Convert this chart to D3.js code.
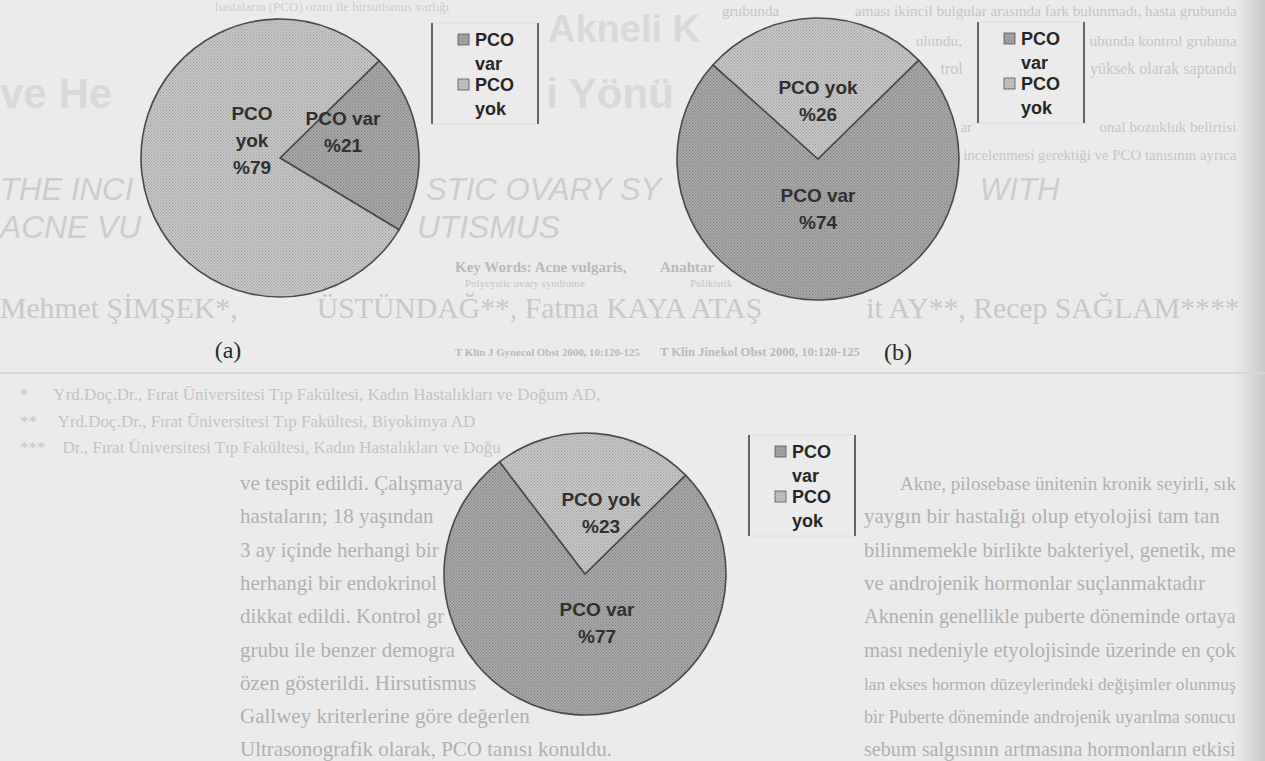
<!DOCTYPE html>
<html>
<head>
<meta charset="utf-8">
<script src="https://cdn.jsdelivr.net/npm/d3@7"></script>
<style>
  body { margin: 0; background: #ebebeb; overflow: hidden; }
  svg { display: block; }
</style>
</head>
<body>
<svg></svg>
<script>
// chart data
const categories = ["PCO var", "PCO yok"];
const panelNames = ["(a)", "(b)", ""];
const valuesA = [21, 79];
const valuesB = [74, 26];
const valuesC = [77, 23];
const legendLines = [["PCO", "var"], ["PCO", "yok"]];

const W = 1265, H = 761;
const svg = d3.select('svg').attr('width', W).attr('height', H);

const deg = Math.PI / 180;
const startDeg = 45.5;

// layout of the three pies (centres, legends, captions, label spots)
const panels = [
  { values: valuesA, cx: 280, cy: 158, r: 139, legend: [432, 23], caption: [228, 358],
    labels: [[63, -27], [-28, -18]], wrapYok: true },
  { values: valuesB, cx: 818, cy: 159, r: 141, legend: [978, 22], caption: [898, 360],
    labels: [[0, 49], [0, -59]], wrapYok: false },
  { values: valuesC, cx: 585, cy: 574, r: 141, legend: [749, 435], caption: null,
    labels: [[12, 48], [16, -62]], wrapYok: false }
];

// halftone patterns
const defs = svg.append('defs');
const patterns = [
  { id: 'pVar', base: '#adadad', dot: '#7f7f7f' },
  { id: 'pYok', base: '#cbcbcb', dot: '#9d9d9d' }
];
patterns.forEach(p => {
  const pat = defs.append('pattern').attr('id', p.id)
    .attr('width', 3).attr('height', 3).attr('patternUnits', 'userSpaceOnUse');
  pat.append('rect').attr('width', 3).attr('height', 3).attr('fill', p.base);
  pat.append('rect').attr('width', 1.2).attr('height', 1.2).attr('fill', p.dot);
  pat.append('rect').attr('x', 1.5).attr('y', 1.5).attr('width', 1.2).attr('height', 1.2).attr('fill', p.dot);
});
const color = d3.scaleOrdinal().domain(categories).range(['url(#pVar)', 'url(#pYok)']);

// page background
const edge = defs.append('linearGradient').attr('id', 'edge');
edge.append('stop').attr('offset', '0%').attr('stop-color', '#ebebeb');
edge.append('stop').attr('offset', '100%').attr('stop-color', '#c9c9c9');
svg.append('rect').attr('width', W).attr('height', H).attr('fill', '#ebebeb');
svg.append('rect').attr('x', 1235).attr('width', 30).attr('height', H).attr('fill', 'url(#edge)');

// faint text of the scanned page behind the charts
const pageText = [
  { t: 'Akneli K', x: 548, y: 42, s: 38, w: 'bold', f: 'sans', c: '#d9d9d9', len: 200 },
  { t: 've Hemogram Parametreleri Yönünden', x: 0, y: 108, s: 42, w: 'bold', f: 'sans', c: '#d9d9d9', len: 1000 },
  { t: 'hastaların (PCO) oranı ile hirsutismus varlığı', x: 215, y: 11, s: 13, f: 'serif', c: '#cdcdcd', len: 330 },
  { t: 'grubunda bir yaş ortalaması ikincil bulgular arasında fark bulunmadı, hasta grubunda', x: 722, y: 16, s: 15, f: 'serif', c: '#c6c6c6', len: 515, fit: true },
  { t: 'göre anlamlı derecede yüksek bulundu, PCO sıklığı hasta grubunda kontrol grubuna', x: 722, y: 46, s: 15, f: 'serif', c: '#c6c6c6', len: 515, fit: true },
  { t: 'göre PAOS\'lu hastaların oranı kontrol grubuna göre daha yüksek olarak saptandı', x: 722, y: 74, s: 15, f: 'serif', c: '#c6c6c6', len: 515, fit: true },
  { t: 'Yaş ortalaması arasında fark yoktu.', x: 722, y: 100, s: 15, f: 'serif', c: '#c6c6c6', len: 330 },
  { t: 'Sonuç: Akne vulgarisli ve hirsut kadınlarda PCO varlığı hormonal bozukluk belirtisi', x: 722, y: 132, s: 15, f: 'serif', c: '#c6c6c6', len: 515, fit: true },
  { t: 'olmasına rağmen ultrasonografik olarak incelenmesi gerektiği ve PCO tanısının ayrıca', x: 722, y: 160, s: 15, f: 'serif', c: '#c6c6c6', len: 515, fit: true },
  { t: 'THE INCIDENCE OF POLYCYSTIC OVARY SYNDROME IN WOMEN WITH', x: 0, y: 200, s: 30, st: 'italic', f: 'sans', c: '#cdcdcd', len: 1060, fit: true },
  { t: 'ACNE VULGARIS AND HIRSUTISMUS', x: 0, y: 238, s: 30, st: 'italic', f: 'sans', c: '#cdcdcd', len: 560, fit: true },
  { t: 'Key Words: Acne vulgaris,', x: 455, y: 272, s: 15, w: 'bold', f: 'serif', c: '#b9b9b9', len: 185 },
  { t: 'Polycystic ovary syndrome', x: 465, y: 287, s: 11, f: 'serif', c: '#c4c4c4', len: 160 },
  { t: 'Anahtar Kelimeler: Akne vulgaris,', x: 660, y: 272, s: 15, w: 'bold', f: 'serif', c: '#b9b9b9', len: 230 },
  { t: 'Polikistik over sendromu', x: 690, y: 287, s: 11, f: 'serif', c: '#c4c4c4', len: 160 },
  { t: 'Mehmet ŞİMŞEK*, Ertan ÜSTÜNDAĞ**, Fatma KAYA ATAŞ***, Ümit AY**, Recep SAĞLAM****', x: 0, y: 318, s: 25, f: 'serif', c: '#c8c8c8', len: 1240, fit: true },
  { t: 'T Klin J Gynecol Obst 2000, 10:120-125', x: 455, y: 356, s: 15, w: 'bold', f: 'serif', c: '#b9b9b9', len: 185 },
  { t: 'T Klin Jinekol Obst 2000, 10:120-125', x: 660, y: 356, s: 15, w: 'bold', f: 'serif', c: '#b9b9b9', len: 200 },
  { t: '*      Yrd.Doç.Dr., Fırat Üniversitesi Tıp Fakültesi, Kadın Hastalıkları ve Doğum AD,', x: 20, y: 400, s: 17, f: 'serif', c: '#c4c4c4', len: 1000 },
  { t: '**     Yrd.Doç.Dr., Fırat Üniversitesi Tıp Fakültesi, Biyokimya AD', x: 20, y: 427, s: 17, f: 'serif', c: '#c4c4c4', len: 1000 },
  { t: '***    Dr., Fırat Üniversitesi Tıp Fakültesi, Kadın Hastalıkları ve Doğum AD, ELAZIĞ', x: 20, y: 453, s: 17, f: 'serif', c: '#c4c4c4', len: 1000 }
];
const bodyLeft = [
  've tespit edildi. Çalışmaya kapsamları alınan',
  'hastaların; 18 yaşından büyük olmasına, son',
  '3 ay içinde herhangi bir hormon tedavisi almamasına ve',
  'herhangi bir endokrinolojik hastalığının bulunmamasına',
  'dikkat edildi. Kontrol grubunun çalışma',
  'grubu ile benzer demografik özellikler göstermesine',
  'özen gösterildi. Hirsutismus varlığı, Ferriman-',
  'Gallwey kriterlerine göre değerlendirildi (10).',
  'Ultrasonografik olarak, PCO tanısı konuldu.'
];
const bodyRight = [
  'Akne, pilosebase ünitenin kronik seyirli, sık',
  'yaygın bir hastalığı olup etyolojisi tam tan',
  'bilinmemekle birlikte bakteriyel, genetik, me',
  've androjenik hormonlar suçlanmaktadır',
  'Aknenin genellikle puberte döneminde ortaya',
  'ması nedeniyle etyolojisinde üzerinde en çok',
  'lan ekses hormon düzeylerindeki değişimler olunmuş',
  'bir Puberte döneminde androjenik uyarılma sonucu',
  'sebum salgısının artmasına hormonların etkisi'
];
bodyLeft.forEach((t, i) => pageText.push({ t, x: 240, y: 490 + i * 33.3, s: 21, f: 'serif', c: '#b0b0b0', len: 470 }));
bodyRight.forEach((t, i) => pageText.push({ t, x: i === 0 ? 900 : 864, y: 490 + i * 33.3, s: 21, f: 'serif', c: '#b0b0b0', len: i === 0 ? 336 : 372 }));

const fam = { sans: '"Liberation Sans", Arial, sans-serif', serif: '"Liberation Serif", "Times New Roman", serif' };

// regions that the charts cover: page text hidden there is not drawn
const covers = [];
panels.forEach(p => {
  covers.push({ cx: p.cx, cy: p.cy, r: p.r + 3 });
  covers.push({ x0: p.legend[0] - 4, x1: p.legend[0] + 110, y0: p.legend[1] - 2, y1: p.legend[1] + 103 });
  if (p.caption) covers.push({ x0: p.caption[0] - 22, x1: p.caption[0] + 22, y0: p.caption[1] - 24, y1: p.caption[1] + 8 });
});
function blocked(top, bottom) {
  const spans = [[-1e4, 0], [W - 8, 1e4]];
  covers.forEach(b => {
    if (b.r) {
      const dy = (b.cy >= top && b.cy <= bottom) ? 0 : Math.min(Math.abs(b.cy - top), Math.abs(b.cy - bottom));
      if (dy < b.r) { const hw = Math.sqrt(b.r * b.r - dy * dy); spans.push([b.cx - hw, b.cx + hw]); }
    } else if (!(bottom < b.y0 || top > b.y1)) spans.push([b.x0, b.x1]);
  });
  return spans;
}

const pageG = svg.append('g').attr('class', 'page');
pageText.forEach(d => {
  // size the font so the line spans its column (only shrink unless fit is set)
  const probe = pageG.append('text')
    .attr('font-family', fam[d.f]).attr('font-size', d.s)
    .attr('font-weight', d.w || 'normal').attr('font-style', d.st || 'normal')
    .text(d.t);
  const natural = probe.node().getComputedTextLength();
  probe.remove();
  const fs = (d.fit || natural > d.len) ? d.s * d.len / natural : d.s;
  const style = sel => sel
    .attr('font-family', fam[d.f]).attr('font-size', fs)
    .attr('font-weight', d.w || 'normal').attr('font-style', d.st || 'normal')
    .attr('fill', d.c);
  const full = pageG.append('text').attr('x', d.x).attr('y', d.y)
    .attr('xml:space', 'preserve').call(style).text(d.t);
  const node = full.node();
  const spans = blocked(d.y - fs * 0.75, d.y + fs * 0.22);
  const runs = [];
  let cur = null;
  for (let i = 0; i < d.t.length; i++) {
    let a, b;
    try { a = node.getStartPositionOfChar(i).x; b = node.getEndPositionOfChar(i).x; } catch (e) { continue; }
    const hidden = spans.some(s => b > s[0] && a < s[1]);
    if (!hidden) {
      if (!cur) { cur = { i0: i, x0: a }; runs.push(cur); }
      cur.i1 = i; cur.x1 = b;
    } else cur = null;
  }
  full.remove();
  runs.forEach(r => {
    const s = d.t.slice(r.i0, r.i1 + 1);
    if (!s.trim()) return;
    pageG.append('text').attr('x', r.x0).attr('y', d.y)
      .attr('xml:space', 'preserve')
      .call(style).text(s);
  });
});
svg.append('line').attr('x1', 0).attr('x2', W).attr('y1', 373).attr('y2', 373)
  .attr('stroke', '#d6d6d6').attr('stroke-width', 2);

// pies
const pie = d3.pie().sort(null)
  .startAngle(startDeg * deg).endAngle(startDeg * deg + 2 * Math.PI);

panels.forEach((p, pi) => {
  const data = categories.map((c, i) => ({ cat: c, value: p.values[i] }));
  const arcs = pie.value(d => d.value)(data);
  const arc = d3.arc().innerRadius(0).outerRadius(p.r);
  const g = svg.append('g').attr('transform', `translate(${p.cx},${p.cy})`);

  g.selectAll('path').data(arcs).enter().append('path')
    .attr('d', arc)
    .attr('fill', d => color(d.data.cat))
    .attr('stroke', '#4a4a4a').attr('stroke-width', 1.6)
    .attr('stroke-linejoin', 'round');

  // slice labels
  arcs.forEach((a, i) => {
    const pct = '%' + a.data.value;
    const lines = (a.data.cat === 'PCO yok' && p.wrapYok) ? ['PCO', 'yok', pct] : [a.data.cat, pct];
    const [dx, dy] = p.labels[i];
    const lh = 27;
    const t = g.append('text')
      .attr('text-anchor', 'middle')
      .attr('font-family', fam.sans).attr('font-weight', 'bold')
      .attr('font-size', 19).attr('fill', '#303030');
    lines.forEach((l, k) => {
      t.append('tspan').attr('x', dx)
        .attr('y', dy + (k - (lines.length - 1) / 2) * lh + 7)
        .text(l);
    });
  });

  // legend
  const [lx, ly] = p.legend;
  const lg = svg.append('g').attr('transform', `translate(${lx},${ly})`);
  lg.append('rect').attr('x', 0).attr('y', 0).attr('width', 106).attr('height', 101)
    .attr('fill', '#ebebeb').attr('stroke', '#dedede').attr('stroke-width', 1);
  [0, 106].forEach(x => lg.append('line').attr('x1', x).attr('x2', x).attr('y1', 0).attr('y2', 101)
    .attr('stroke', '#444').attr('stroke-width', 1.6));
  categories.forEach((c, i) => {
    const y0 = i * 45;
    lg.append('rect').attr('x', 26).attr('y', y0 + 11).attr('width', 11).attr('height', 11)
      .attr('fill', color(c)).attr('stroke', '#555').attr('stroke-width', 0.8);
    legendLines[i].forEach((l, k) => {
      lg.append('text').attr('x', 43).attr('y', y0 + 23 + k * 24)
        .attr('font-family', fam.sans).attr('font-weight', 'bold')
        .attr('font-size', 18).attr('fill', '#262626')
        .text(l);
    });
  });

  if (p.caption) {
    svg.append('text').attr('x', p.caption[0]).attr('y', p.caption[1])
      .attr('text-anchor', 'middle')
      .attr('font-family', fam.serif).attr('font-size', 24).attr('fill', '#2a2a2a')
      .text(panelNames[pi]);
  }
});
</script>
</body>
</html>
